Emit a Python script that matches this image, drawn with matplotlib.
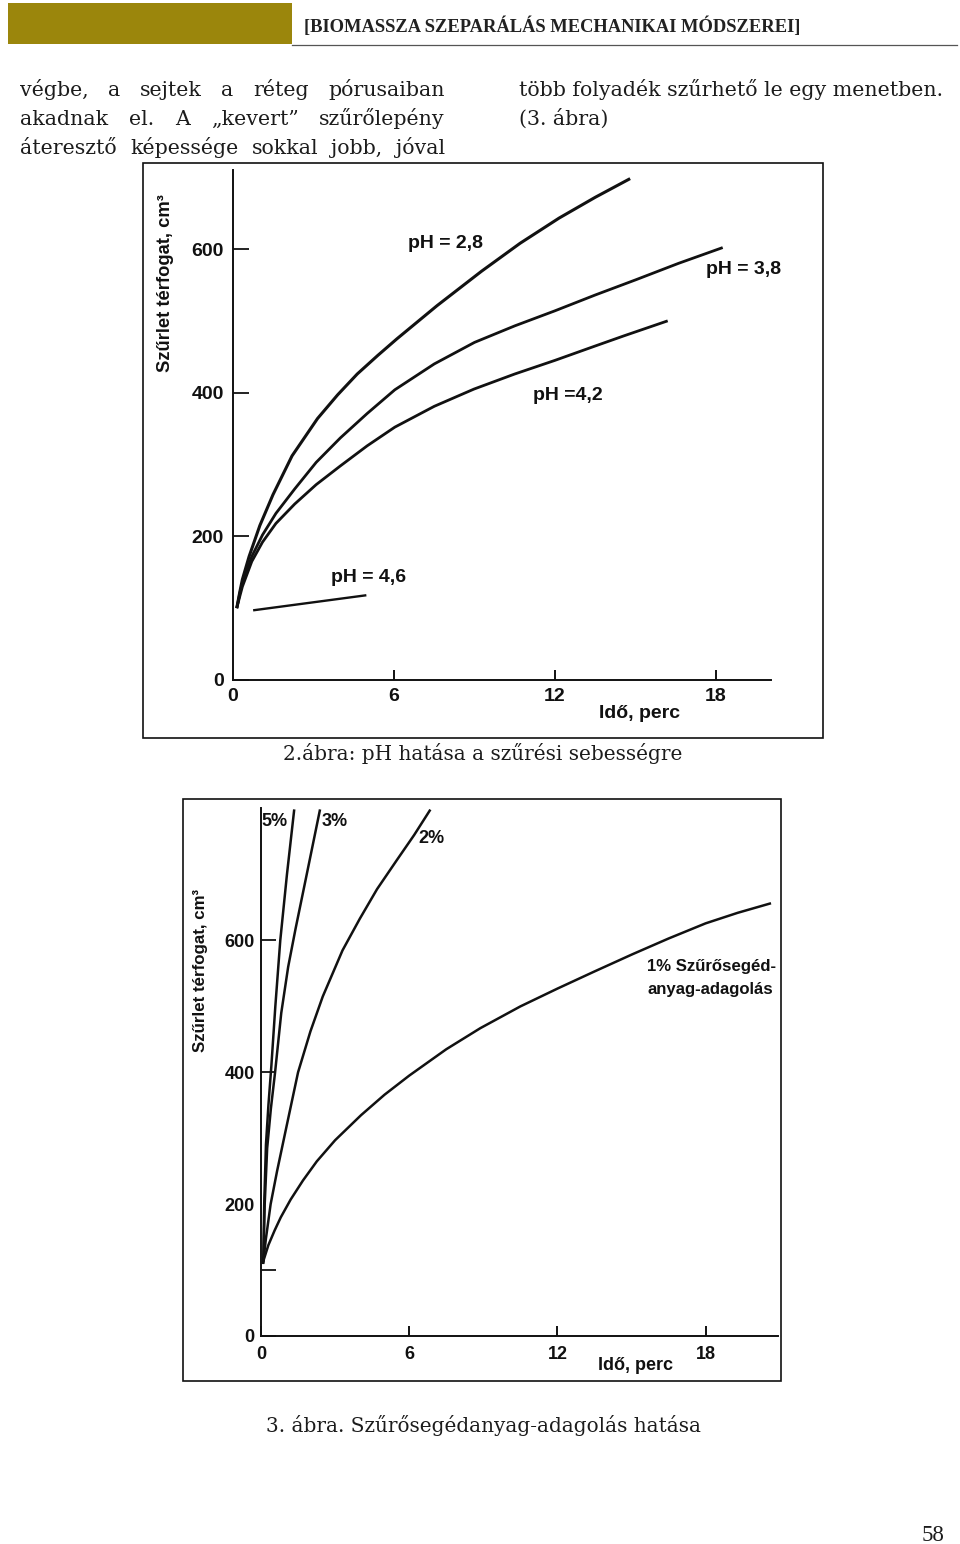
import matplotlib
matplotlib.use("Agg")
import matplotlib.pyplot as plt
from matplotlib.patches import Rectangle
from matplotlib.lines import Line2D

# ---------------- data: 2. ábra (pH) ----------------
ph_labels = ["pH = 2,8", "pH = 3,8", "pH =4,2", "pH = 4,6"]
ph28_t = [0.14, 0.25, 0.35, 0.6, 1.0, 1.49, 2.2, 3.15, 3.9, 4.63, 5.4, 6.11, 7.6, 9.26,
          10.7, 12.15, 13.5, 14.8]
ph28_v = [100, 122, 140, 172, 215, 258, 312, 364, 397, 426, 452, 475, 521, 569,
          608, 643, 672, 698]
ph38_t = [0.14, 0.25, 0.35, 0.7, 1.1, 1.6, 2.3, 3.1, 4.0, 5.0, 6.03, 7.5, 9.0, 10.5,
          12.0, 13.5, 15.0, 16.6, 18.25]
ph38_v = [100, 120, 135, 172, 202, 232, 266, 303, 337, 371, 404, 440, 470, 493,
          514, 536, 557, 580, 602]
ph42_t = [0.14, 0.25, 0.35, 0.7, 1.1, 1.6, 2.3, 3.1, 4.0, 5.0, 6.03, 7.5, 8.98, 10.5,
          12.0, 13.5, 14.56, 16.2]
ph42_v = [100, 116, 130, 165, 192, 218, 245, 272, 298, 326, 352, 381, 405, 426,
          445, 465, 479, 500]
ph46_t = [0.75, 4.97]
ph46_v = [97, 118]
fig2_ticks_x = [0, 6, 12, 18]
fig2_ticks_y = [0, 200, 400, 600]

# ---------------- data: 3. ábra (szűrősegédanyag) ----------------
aid_labels = ["5%", "3%", "2%", "1% Szűrősegéd-\nanyag-adagolás"]
p5_t = [0.09, 0.13, 0.2, 0.3, 0.42, 0.58, 0.78, 1.05, 1.34]
p5_v = [111, 200, 290, 350, 410, 500, 600, 700, 797]
p3_t = [0.10, 0.15, 0.25, 0.4, 0.57, 0.82, 1.1, 1.4, 1.85, 2.38]
p3_v = [115, 200, 285, 345, 400, 490, 560, 618, 700, 797]
p2_t = [0.09, 0.2, 0.39, 0.65, 1.0, 1.5, 2.0, 2.5, 3.3, 4.0, 4.7, 5.5, 6.2, 6.83]
p2_v = [112, 148, 200, 250, 312, 400, 462, 515, 585, 633, 678, 722, 760, 797]
p1_t = [0.08, 0.3, 0.55, 0.8, 1.2, 1.7, 2.26, 3.0, 4.05, 5.0, 6.0, 7.5, 8.88, 10.5,
        12.0, 13.5, 15.03, 16.5, 18.0, 19.3, 20.6]
p1_v = [112, 138, 160, 180, 207, 236, 265, 297, 335, 366, 395, 435, 467, 500,
        527, 553, 579, 603, 626, 642, 656]
fig3_ticks_x = [0, 6, 12, 18]
fig3_ticks_y = [0, 200, 400, 600]
fig3_minor_y = [100]

# ---------------- text ----------------
header = "[BIOMASSZA SZEPARÁLÁS MECHANIKAI MÓDSZEREI]"
left_lines = ["végbe, a sejtek a réteg pórusaiban",
              "akadnak el. A „kevert” szűrőlepény",
              "áteresztő képessége sokkal jobb, jóval"]
right_lines = ["több folyadék szűrhető le egy menetben.", "(3. ábra)"]
caption2 = "2.ábra: pH hatása a szűrési sebességre"
caption3 = "3. ábra. Szűrősegédanyag-adagolás hatása"
ylabel = "Szűrlet térfogat, cm³"
xlabel = "Idő, perc"
page_no = "58"

W, H = 960, 1544
fig = plt.figure(figsize=(W / 100, H / 100), dpi=100)
fig.patch.set_facecolor("white")
R = fig.canvas.get_renderer()

SANS = ["Liberation Sans Narrow", "Liberation Sans", "DejaVu Sans"]
SERIF = ["DejaVu Serif"]
TXT = "#1c1c1c"
INK = "#111111"


def ftext(x, y, s, **kw):
    return fig.text(x / W, 1 - y / H, s, **kw)


def fit_width(t, target):
    w = t.get_window_extent(renderer=R).width
    t.set_fontsize(t.get_fontsize() * target / w)
    return t


def fit_height(t, target):
    h = t.get_window_extent(renderer=R).height
    t.set_fontsize(t.get_fontsize() * target / h)
    return t


def justify(line, x0, x1, yb, size):
    words = line.split(" ")
    objs = [ftext(0, yb, w, fontsize=size, family=SERIF, va="baseline",
                  ha="left", color=TXT) for w in words]
    widths = [o.get_window_extent(renderer=R).width for o in objs]
    gap = (x1 - x0 - sum(widths)) / (len(words) - 1)
    x = x0
    for o, w in zip(objs, widths):
        o.set_x(x / W)
        x += w + gap


# ---------------- page header ----------------
fig.add_artist(Rectangle((8 / W, 1 - 44 / H), (292 - 8) / W, (44 - 3) / H,
                         transform=fig.transFigure, facecolor="#9b860c",
                         edgecolor="none"))
fig.add_artist(Line2D([292 / W, 957 / W], [1 - 44.5 / H, 1 - 44.5 / H],
                      transform=fig.transFigure, color="#555555", lw=0.9))
th = ftext(304, 32, header, fontsize=13, family=["Liberation Serif"],
           weight="bold", va="baseline", ha="left", color="#222222")
fit_width(th, 494)

# ---------------- body text ----------------
tr = ftext(519, 96, right_lines[0], fontsize=14, family=SERIF,
           va="baseline", ha="left", color=TXT)
fit_width(tr, 426)
body_size = tr.get_fontsize()
ftext(519, 125, right_lines[1], fontsize=body_size, family=SERIF,
      va="baseline", ha="left", color=TXT)
for i, ln in enumerate(left_lines):
    justify(ln, 20, 445, 96 + 29 * i, body_size)

# ---------------- figure frames ----------------
for (x0, y0, x1, y1) in [(143, 163, 823, 738), (183, 799, 781, 1381)]:
    fig.add_artist(Rectangle((x0 / W, 1 - y1 / H), (x1 - x0) / W, (y1 - y0) / H,
                             transform=fig.transFigure, facecolor="none",
                             edgecolor=INK, lw=1.2))


def style_axes(ax, xlim, ylim):
    ax.set_xlim(*xlim)
    ax.set_ylim(*ylim)
    ax.patch.set_alpha(0)
    for s in ["top", "right"]:
        ax.spines[s].set_visible(False)
    for s in ["left", "bottom"]:
        ax.spines[s].set_linewidth(1.4)
        ax.spines[s].set_color(INK)


# ---------------- 2. ábra ----------------
ax1 = fig.add_axes([233 / W, 1 - 680 / H, (771 - 233) / W, (680 - 170) / H])
style_axes(ax1, (0, 20.05), (0, 710))
ax1.set_xticks(fig2_ticks_x)
ax1.set_xticklabels([str(v) for v in fig2_ticks_x], family=SANS, weight="bold", fontsize=14)
ax1.set_yticks(fig2_ticks_y)
ax1.set_yticklabels([str(v) for v in fig2_ticks_y], family=SANS, weight="bold", fontsize=14)
ax1.tick_params(axis="y", direction="in", length=11.5, width=1.3, pad=6.5, colors=INK)
ax1.tick_params(axis="x", direction="in", length=7, width=1.4, pad=5.5, colors=INK)
for t_, v_, lw_ in [(ph28_t, ph28_v, 2.2), (ph38_t, ph38_v, 2.0),
                    (ph42_t, ph42_v, 2.0), (ph46_t, ph46_v, 1.7)]:
    ax1.plot(t_, v_, color=INK, lw=lw_, solid_capstyle="butt",
             solid_joinstyle="round", clip_on=False)

ann_pos1 = [(446, 243), (744, 269), (568, 395), (369, 577)]
for lab, (x, y) in zip(ph_labels, ann_pos1):
    ftext(x, y, lab, fontsize=14, family=SANS, weight="bold", ha="center",
          va="center", color=INK)
ftext(640, 714, xlabel, fontsize=14, family=SANS, weight="bold", ha="center",
      va="center", color=INK)
yl1 = ftext(165, 283, ylabel, fontsize=13, family=SANS, weight="bold", rotation=90,
            ha="center", va="center", color=INK)
fit_height(yl1, 177)

# ---------------- 3. ábra ----------------
ax2 = fig.add_axes([261 / W, 1 - 1336 / H, (778 - 261) / W, (1336 - 808) / H])
style_axes(ax2, (0, (778 - 261) / 24.7), (0, 801))
ax2.set_xticks(fig3_ticks_x)
ax2.set_xticklabels([str(v) for v in fig3_ticks_x], family=SANS, weight="bold", fontsize=13)
ax2.set_yticks(fig3_ticks_y)
ax2.set_yticklabels([str(v) for v in fig3_ticks_y], family=SANS, weight="bold", fontsize=13)
ax2.set_yticks(fig3_minor_y, minor=True)
ax2.tick_params(axis="y", which="both", direction="in", length=10.8, width=1.3, pad=4.5,
                colors=INK)
ax2.tick_params(axis="x", direction="in", length=7, width=1.4, pad=7, colors=INK)
ax2.yaxis.get_major_ticks()[1].tick1line.set_visible(False)
for t_, v_ in [(p5_t, p5_v), (p3_t, p3_v), (p2_t, p2_v), (p1_t, p1_v)]:
    ax2.plot(t_, v_, color=INK, lw=1.8, solid_joinstyle="round", clip_on=False)

ftext(275, 822, aid_labels[0], fontsize=13, family=SANS, weight="bold", ha="center",
      va="center", color=INK)
ftext(335, 822, aid_labels[1], fontsize=13, family=SANS, weight="bold", ha="center",
      va="center", color=INK)
ftext(431, 838, aid_labels[2], fontsize=13, family=SANS, weight="bold", ha="center",
      va="center", color=INK)
l1, l2 = aid_labels[3].split("\n")
a1 = ftext(647, 966, l1, fontsize=13, family=SANS, weight="bold", ha="left",
           va="center", color=INK)
fit_width(a1, 129)
ftext(647, 990, l2, fontsize=a1.get_fontsize(), family=SANS, weight="bold", ha="left",
      va="center", color=INK)
ftext(636, 1366, xlabel, fontsize=13, family=SANS, weight="bold", ha="center",
      va="center", color=INK)
yl2 = ftext(200, 970, ylabel, fontsize=12, family=SANS, weight="bold", rotation=90,
            ha="center", va="center", color=INK)
fit_height(yl2, 163)

# ---------------- captions & page number ----------------
c2 = ftext(483, 760, caption2, fontsize=14, family=SERIF, ha="center",
           va="baseline", color=TXT)
fit_width(c2, 400)
c3 = ftext(483, 1432, caption3, fontsize=14, family=SERIF, ha="center",
           va="baseline", color=TXT)
fit_width(c3, 435)
ftext(944, 1541, page_no, fontsize=16.5, family=["Liberation Serif"], ha="right",
      va="baseline", color=TXT)

fig.savefig("out.png", dpi=100)
